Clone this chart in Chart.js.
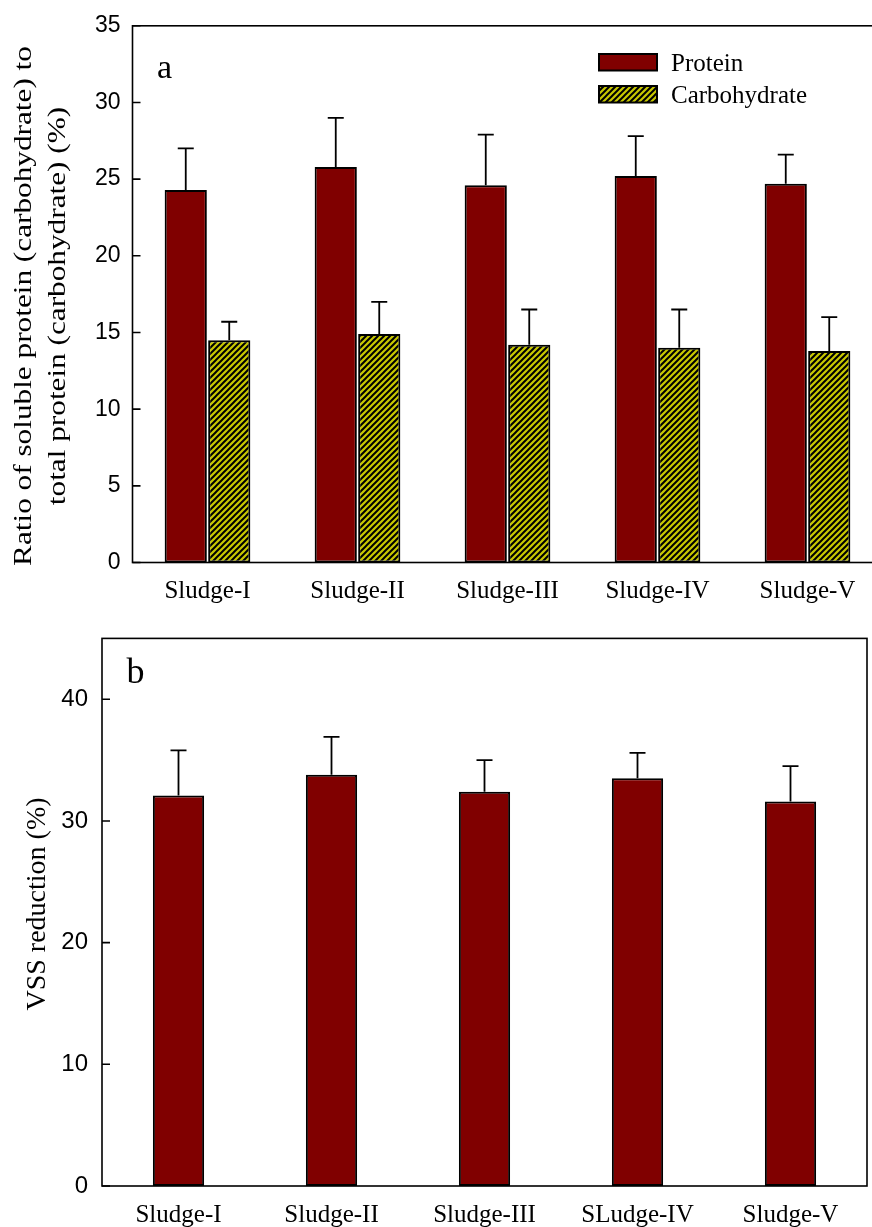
<!DOCTYPE html>
<html>
<head>
<meta charset="utf-8">
<script src="https://cdn.jsdelivr.net/npm/chart.js@4.4.0/dist/chart.umd.min.js"></script>
<style>
    html, body { margin: 0; padding: 0; background: #fff; overflow: hidden; width: 872px; height: 1227px; }
    #wrapA { position: absolute; left: 0; top: 0; width: 900px; height: 610px; }
    #wrapB { position: absolute; left: 0; top: 610px; width: 872px; height: 617px; }
</style>
</head>
<body>
<div id="wrapA"><canvas id="chartA" width="900" height="610"></canvas></div>
<div id="wrapB"><canvas id="chartB" width="872" height="617"></canvas></div>
<script>
// panel a
const sludgeLabelsA = ['Sludge-I', 'Sludge-II', 'Sludge-III', 'Sludge-IV', 'Sludge-V'];
const proteinRatio = [24.3, 25.8, 24.6, 25.2, 24.7];
const proteinSD = [2.7, 3.2, 3.3, 2.6, 1.9];
const carbRatio = [14.5, 14.9, 14.2, 14.0, 13.8];
const carbSD = [1.2, 2.1, 2.3, 2.5, 2.2];
const ratioTicks = [0, 5, 10, 15, 20, 25, 30, 35];

// panel b
const sludgeLabelsB = ['Sludge-I', 'Sludge-II', 'Sludge-III', 'SLudge-IV', 'Sludge-V'];
const vssReduction = [32.1, 33.8, 32.4, 33.5, 31.6];
const vssSD = [3.7, 3.1, 2.6, 2.1, 2.9];
const vssTicks = [0, 10, 20, 30, 40];

const SERIF = '"Liberation Serif", "Times New Roman", serif';
const SANS = '"Liberation Sans", Arial, sans-serif';
const RED = '#800000';

function hatchPattern() {
    const c = document.createElement('canvas');
    c.width = 6;
    c.height = 6;
    const g = c.getContext('2d');
    g.fillStyle = '#c8c800';
    g.fillRect(0, 0, 6, 6);
    g.strokeStyle = '#000';
    g.lineWidth = 2;
    g.beginPath();
    g.moveTo(0, 6); g.lineTo(6, 0);
    g.moveTo(-3, 3); g.lineTo(3, -3);
    g.moveTo(3, 9); g.lineTo(9, 3);
    g.stroke();
    return g.createPattern(c, 'repeat');
}
const hatch = hatchPattern();

// upper error bars + frame with inward ticks
const framePlugin = {
    id: 'frame',
    afterDatasetsDraw(chart) {
        const ctx = chart.ctx;
        const y = chart.scales.y;
        ctx.save();
        ctx.strokeStyle = '#000';
        ctx.lineWidth = 1.8;
        chart.data.datasets.forEach((ds, i) => {
            chart.getDatasetMeta(i).data.forEach((bar, j) => {
                const top = y.getPixelForValue(ds.data[j] + ds.sd[j]);
                ctx.beginPath();
                ctx.moveTo(bar.x, bar.y);
                ctx.lineTo(bar.x, top);
                ctx.moveTo(bar.x - 8, top);
                ctx.lineTo(bar.x + 8, top);
                ctx.stroke();
            });
        });
        ctx.restore();
    },
    afterDraw(chart) {
        const ctx = chart.ctx;
        const a = chart.chartArea;
        const y = chart.scales.y;
        ctx.save();
        ctx.strokeStyle = '#000';
        ctx.lineWidth = 1.6;
        ctx.strokeRect(a.left, a.top, a.right - a.left, a.bottom - a.top);
        ctx.beginPath();
        y.ticks.forEach(t => {
            const py = y.getPixelForValue(t.value);
            ctx.moveTo(a.left, py);
            ctx.lineTo(a.left + 8, py);
        });
        ctx.stroke();

        const d = chart.options.plugins.decor;
        ctx.fillStyle = '#000';
        ctx.textAlign = 'left';
        ctx.textBaseline = 'alphabetic';
        ctx.font = d.panelFont + 'px ' + SERIF;
        ctx.fillText(d.panel, d.panelX, d.panelY);

        ctx.font = d.titleFont + 'px ' + SERIF;
        ctx.textAlign = 'center';
        ctx.textBaseline = 'middle';
        d.title.forEach((line, k) => {
            ctx.save();
            ctx.translate(d.titleX[k], d.titleY);
            ctx.rotate(-Math.PI / 2);
            ctx.scale(d.titleStretch, 1);
            ctx.fillText(line, 0, 0);
            ctx.restore();
        });

        if (d.legend) {
            ctx.font = '25px ' + SERIF;
            ctx.textAlign = 'left';
            ctx.textBaseline = 'alphabetic';
            ctx.lineWidth = 2;
            chart.data.datasets.forEach((ds, i) => {
                const by = d.legend.y[i];
                ctx.fillStyle = ds.backgroundColor;
                ctx.fillRect(d.legend.x, by, 58, 16.5);
                ctx.strokeRect(d.legend.x, by, 58, 16.5);
                ctx.fillStyle = '#000';
                ctx.fillText(ds.label, d.legend.x + 72, by + 16.5);
            });
        }
        ctx.restore();
    }
};

function axes(yMax, tickList, yWidth, xHeight, tickSize) {
    return {
        x: {
            afterFit: s => { s.height = xHeight; },
            grid: { display: false, drawTicks: false },
            border: { display: false },
            ticks: { padding: 14, color: '#000', maxRotation: 0, autoSkip: false, font: { family: SERIF, size: 25 } }
        },
        y: {
            min: 0,
            max: yMax,
            afterFit: s => { s.width = yWidth; },
            afterBuildTicks: s => { s.ticks = tickList.map(v => ({ value: v })); },
            grid: { display: false, drawTicks: false },
            border: { display: false },
            ticks: { padding: yWidth > 120 ? 12 : 14, color: '#000', font: { family: SANS, size: tickSize } }
        }
    };
}

new Chart(document.getElementById('chartA'), {
    type: 'bar',
    data: {
        labels: sludgeLabelsA,
        datasets: [
            {
                label: 'Protein',
                data: proteinRatio,
                sd: proteinSD,
                backgroundColor: RED,
                borderColor: '#000',
                borderWidth: 2,
                borderSkipped: false,
                categoryPercentage: 0.58,
                barPercentage: 0.97
            },
            {
                label: 'Carbohydrate',
                data: carbRatio,
                sd: carbSD,
                backgroundColor: hatch,
                borderColor: '#000',
                borderWidth: 2,
                borderSkipped: false,
                categoryPercentage: 0.58,
                barPercentage: 0.97
            }
        ]
    },
    options: {
        responsive: false,
        animation: false,
        layout: { padding: { top: 23, right: 17.5, left: 0, bottom: 0 } },
        plugins: {
            legend: { display: false },
            tooltip: { enabled: false },
            decor: {
                panel: 'a', panelX: 157, panelY: 78, panelFont: 34,
                title: ['Ratio of soluble protein (carbohydrate) to', 'total protein (carbohydrate) (%)'],
                titleX: [24, 58.5], titleY: 306, titleFont: 25, titleStretch: 1.25,
                legend: { x: 599, y: [54, 86] }
            }
        },
        scales: axes(35, ratioTicks, 132.5, 47.5, 23)
    },
    plugins: [framePlugin]
});

new Chart(document.getElementById('chartB'), {
    type: 'bar',
    data: {
        labels: sludgeLabelsB,
        datasets: [
            {
                label: 'VSS reduction',
                data: vssReduction,
                sd: vssSD,
                backgroundColor: RED,
                borderColor: '#000',
                borderWidth: 2,
                borderSkipped: false,
                categoryPercentage: 0.335,
                barPercentage: 1
            }
        ]
    },
    options: {
        responsive: false,
        animation: false,
        layout: { padding: { top: 24, right: 5, left: 0, bottom: 0 } },
        plugins: {
            legend: { display: false },
            tooltip: { enabled: false },
            decor: {
                panel: 'b', panelX: 126.5, panelY: 72.5, panelFont: 36,
                title: ['VSS reduction (%)'],
                titleX: [37.5], titleY: 294, titleFont: 28, titleStretch: 1
            }
        },
        scales: axes(45, vssTicks, 102, 41, 24)
    },
    plugins: [framePlugin]
});
</script>
</body>
</html>
